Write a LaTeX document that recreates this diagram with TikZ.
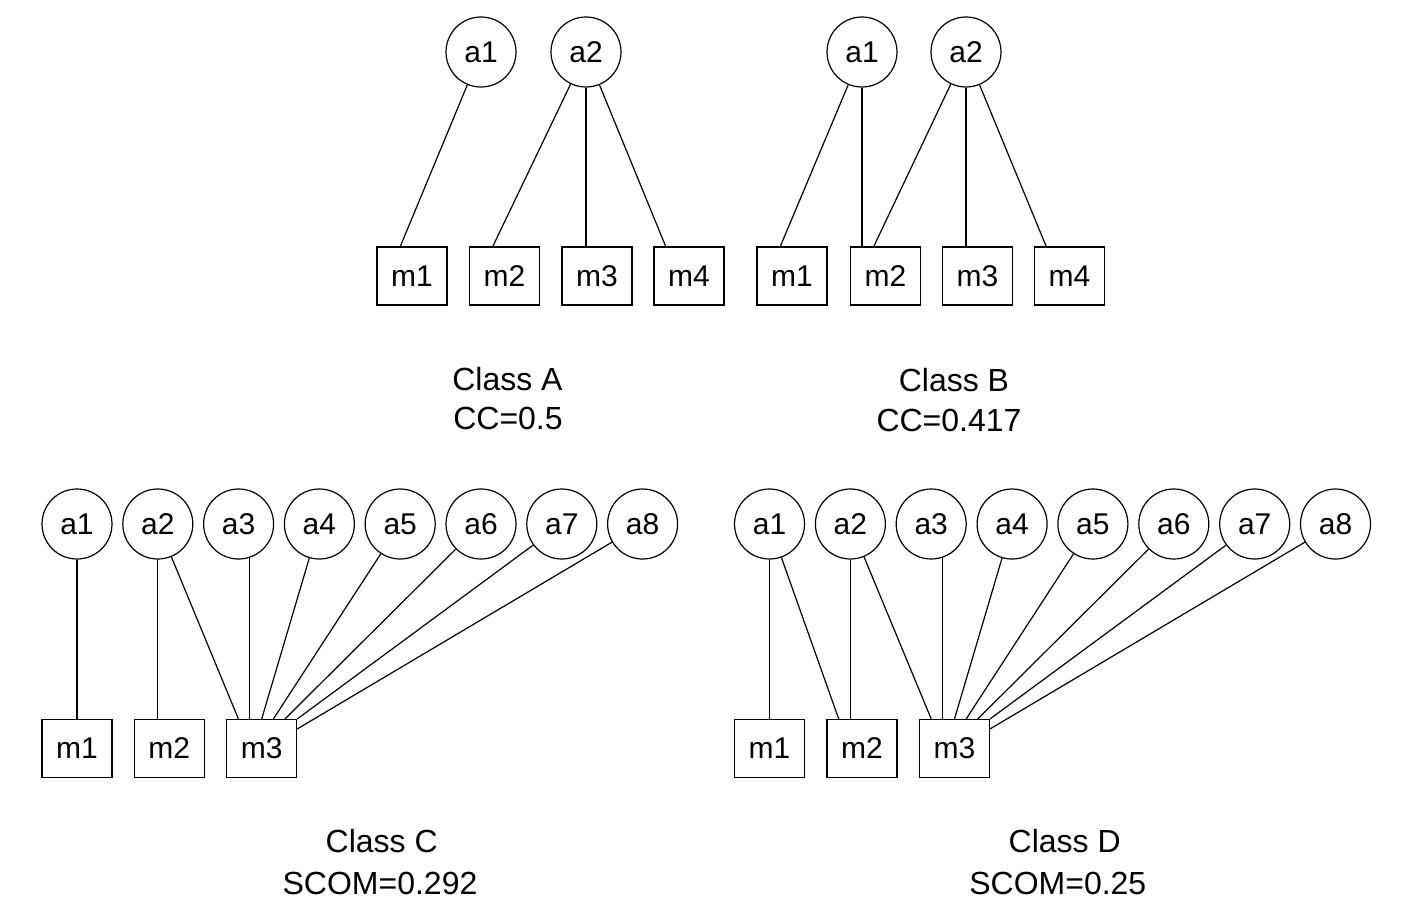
\documentclass[tikz,border=0pt]{standalone}
\usepackage{fontspec}
\setmainfont{Liberation Sans}
\begin{document}
\begin{tikzpicture}[x=1pt,y=-1pt,
  attr/.style={circle,draw=black,line width=1.2pt,minimum size=70pt,inner sep=0pt,font=\fontsize{30}{36}\selectfont},
  meth/.style={rectangle,draw=black,fill=white,line width=1.2pt,minimum width=70pt,minimum height=58pt,inner sep=0pt,font=\fontsize{30}{36}\selectfont},
  lab/.style={anchor=base,inner sep=0pt,font=\fontsize{32}{38}\selectfont},
  link/.style={draw=black,line width=1.2pt}]
\useasboundingbox (0,0) rectangle (1416,910);
\fill[white] (0,0) rectangle (1416,910);

% ---------- Class A ----------
\node[attr] (Aa1) at (481,52) {a1};
\node[attr] (Aa2) at (586,52) {a2};
\node[meth] (Am1) at (412,276) {m1};
\node[meth] (Am2) at (504.5,276) {m2};
\node[meth] (Am3) at (597,276) {m3};
\node[meth] (Am4) at (689,276) {m4};
\draw[link] (Aa1) -- ([xshift=-11.7pt]Am1.north);
\draw[link] (Aa2) -- ([xshift=-11.7pt]Am2.north);
\draw[link] (Aa2.south) -- (Aa2.south |- Am3.north);
\draw[link] (Aa2) -- ([xshift=-23.3pt]Am4.north);
\node[lab] (LA1) at (507.5,390) {Class A};
\node[lab] (LA2) at (508,429) {CC=0.5};

% ---------- Class B ----------
\node[attr] (Ba1) at (862,52) {a1};
\node[attr] (Ba2) at (966,52) {a2};
\node[meth] (Bm1) at (792,276) {m1};
\node[meth] (Bm2) at (885.5,276) {m2};
\node[meth] (Bm3) at (977.5,276) {m3};
\node[meth] (Bm4) at (1069.5,276) {m4};
\draw[link] (Ba1) -- ([xshift=-11.7pt]Bm1.north);
\draw[link] (Ba1.south) -- (Ba1.south |- Bm2.north);
\draw[link] (Ba2) -- ([xshift=-11.7pt]Bm2.north);
\draw[link] (Ba2.south) -- (Ba2.south |- Bm3.north);
\draw[link] (Ba2) -- ([xshift=-23.3pt]Bm4.north);
\node[lab] (LB1) at (954,391) {Class B};
\node[lab] (LB2) at (949,431) {CC=0.417};

% ---------- Class C ----------
\foreach \i/\x in {1/77,2/157.8,3/238.6,4/319.4,5/400.2,6/481,7/561.8,8/642.6}
  \node[attr] (Ca\i) at (\x,524) {a\i};
\node[meth] (Cm1) at (77,748.5) {m1};
\node[meth] (Cm2) at (169.3,748.5) {m2};
\node[meth] (Cm3) at (261.7,748.5) {m3};
\begin{scope}[on background layer/.try]
\end{scope}
\draw[link] (Ca1.south) -- (Cm1.north);
\draw[link] (Ca2.south) -- (Ca2.south |- Cm2.north);
\draw[link] (Ca2) -- ([xshift=-23.3pt]Cm3.north);
\draw[link] (Ca3.-72) -- (Ca3.-72 |- Cm3.north);
\draw[link] (Ca4) -- (Cm3.north);
\draw[link] (Ca5) -- ([xshift=11.7pt]Cm3.north);
\draw[link] (Ca6) -- ([xshift=23.3pt]Cm3.north);
\draw[link] (Ca7) -- (Cm3.north east);
\draw[link] (Ca8) -- ([yshift=-10pt]Cm3.north east);
\node[lab] (LC1) at (381.7,852) {Class C};
\node[lab] (LC2) at (380,894) {SCOM=0.292};

% ---------- Class D ----------
\foreach \i/\x in {1/769.5,2/850.4,3/931.2,4/1012.1,5/1092.9,6/1173.8,7/1254.7,8/1335.5}
  \node[attr] (Da\i) at (\x,524) {a\i};
\node[meth] (Dm1) at (769.5,748.5) {m1};
\node[meth] (Dm2) at (862,748.5) {m2};
\node[meth] (Dm3) at (954.5,748.5) {m3};
\draw[link] (Da1.south) -- (Dm1.north);
\draw[link] (Da1) -- ([xshift=-23.3pt]Dm2.north);
\draw[link] (Da2.south) -- (Da2.south |- Dm2.north);
\draw[link] (Da2) -- ([xshift=-23.3pt]Dm3.north);
\draw[link] (Da3.-72) -- (Da3.-72 |- Dm3.north);
\draw[link] (Da4) -- (Dm3.north);
\draw[link] (Da5) -- ([xshift=11.7pt]Dm3.north);
\draw[link] (Da6) -- ([xshift=23.3pt]Dm3.north);
\draw[link] (Da7) -- (Dm3.north east);
\draw[link] (Da8) -- ([yshift=-10pt]Dm3.north east);
\node[lab] (LD1) at (1064.7,852) {Class D};
\node[lab] (LD2) at (1057.8,894) {SCOM=0.25};
\end{tikzpicture}
\end{document}
